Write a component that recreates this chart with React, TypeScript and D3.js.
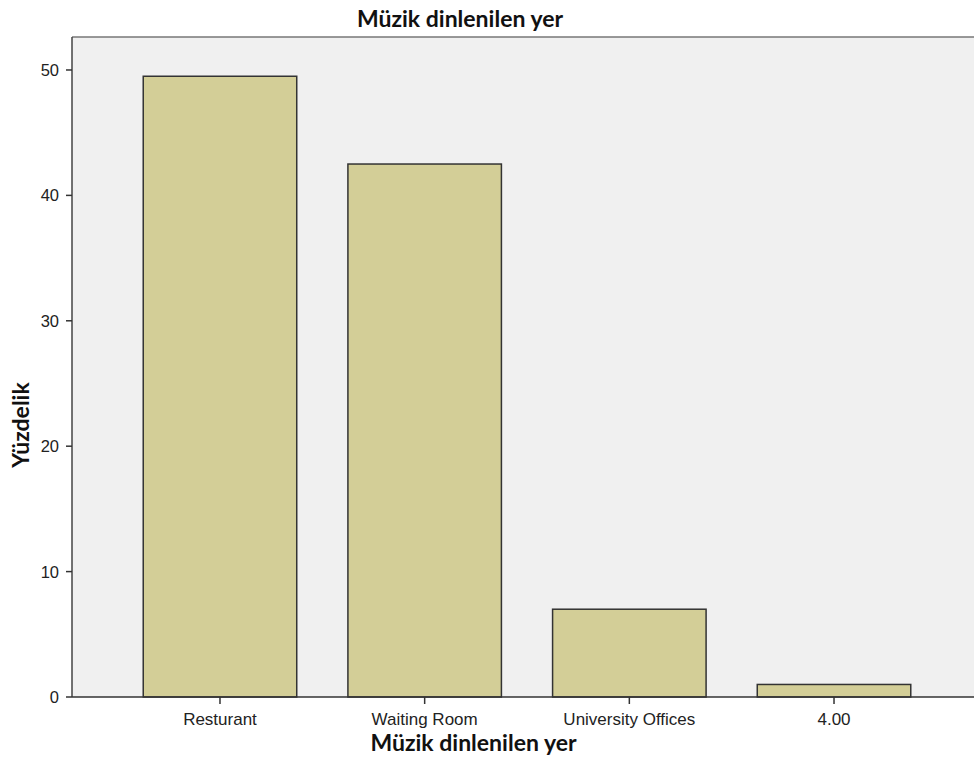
import React from "react";
import * as d3 from "d3";

const categories = ["Resturant", "Waiting Room", "University Offices", "4.00"];
const values = [49.5, 42.5, 7.0, 1.0];
const yTicks = [0, 10, 20, 30, 40, 50];
const title = "Müzik dinlenilen yer";
const xTitle = "Müzik dinlenilen yer";
const yTitle = "Yüzdelik";

export default function App() {
  const W = 974, H = 758;
  const left = 72, top = 37, bottom = 697, right = 974;
  const x = d3.scaleBand<string>().domain(categories).range([117.65, 936.35]).paddingInner(0.25).paddingOuter(0.125);
  const y = d3.scaleLinear().domain([0, 52.63]).range([bottom, top]);
  const tickFont = "'Liberation Sans', Arial, sans-serif";
  const titleFont = "Lato, 'Open Sans', sans-serif";
  return (
    <svg width={W} height={H} style={{ position: "absolute", left: 0, top: 0, background: "#fff" }}>
      <rect x={left} y={top} width={right - left} height={bottom - top} fill="#f0f0f0" />
      <line x1={left} x2={right} y1={top} y2={top} stroke="#777" strokeWidth={1.5} />
      {categories.map((c, i) => (
        <rect key={c} x={x(c)!} y={y(values[i])} width={x.bandwidth()} height={bottom - y(values[i])}
          fill="#d3ce97" stroke="#333" strokeWidth={1.5} />
      ))}
      <line x1={left} x2={left} y1={top} y2={bottom} stroke="#444" strokeWidth={1.5} />
      <line x1={left} x2={right} y1={bottom} y2={bottom} stroke="#333" strokeWidth={1.5} />
      {yTicks.map(t => (
        <g key={t}>
          <line x1={left - 6} x2={left} y1={y(t)} y2={y(t)} stroke="#333" strokeWidth={1.5} />
          <text x={left - 13} y={y(t)} dy="0.36em" textAnchor="end" fontFamily={tickFont} fontSize={16.5} fill="#222">{t}</text>
        </g>
      ))}
      {categories.map(c => {
        const cx = x(c)! + x.bandwidth() / 2;
        return (
          <g key={c}>
            <line x1={cx} x2={cx} y1={bottom} y2={bottom + 7} stroke="#333" strokeWidth={1.5} />
            <text x={cx} y={bottom + 28} textAnchor="middle" fontFamily={tickFont} fontSize={17} fill="#222">{c}</text>
          </g>
        );
      })}
      <text x={460} y={27} textAnchor="middle" fontFamily={titleFont} fontWeight="bold" fontSize={23} fill="#111">{title}</text>
      <text x={473.5} y={751} textAnchor="middle" fontFamily={titleFont} fontWeight="bold" fontSize={23} fill="#111">{xTitle}</text>
      <text transform={`translate(29,425) rotate(-90)`} textAnchor="middle" fontFamily={titleFont} fontWeight="bold" fontSize={23} fill="#111">{yTitle}</text>
    </svg>
  );
}
